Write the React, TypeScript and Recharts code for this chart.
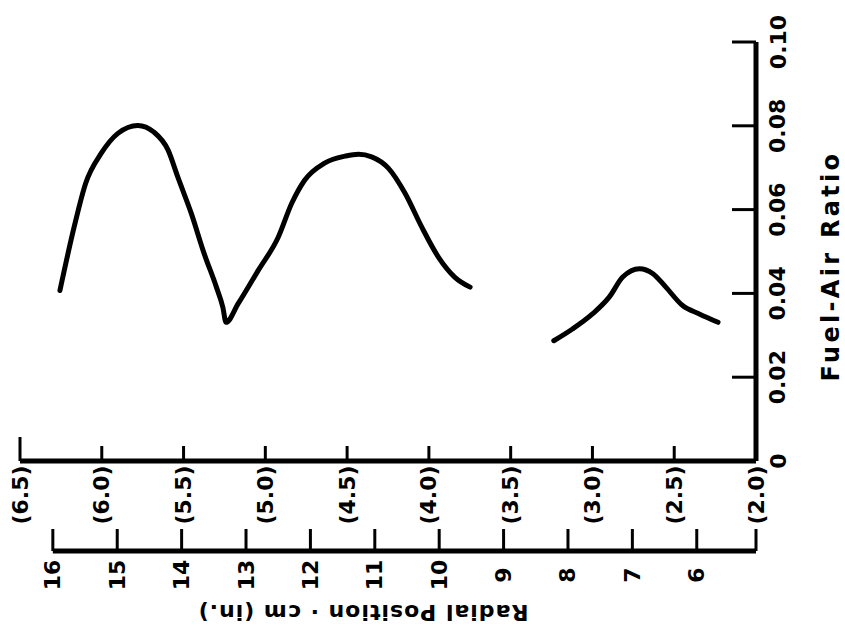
import React from 'react';
import { LineChart, Line, XAxis, YAxis, Label } from 'recharts';

// radial position in cm, fuel-air ratio
const outerCurve = [
  { cm: 15.89, far: 0.0407 },
  { cm: 15.67, far: 0.0558 },
  { cm: 15.49, far: 0.0663 },
  { cm: 15.25, far: 0.0734 },
  { cm: 14.99, far: 0.0782 },
  { cm: 14.68, far: 0.0801 },
  { cm: 14.43, far: 0.0785 },
  { cm: 14.21, far: 0.0742 },
  { cm: 14.06, far: 0.0678 },
  { cm: 13.85, far: 0.0591 },
  { cm: 13.65, far: 0.0495 },
  { cm: 13.46, far: 0.0415 },
  { cm: 13.36, far: 0.0367 },
  { cm: 13.31, far: 0.0331 },
  { cm: 13.12, far: 0.0376 },
  { cm: 12.81, far: 0.0455 },
  { cm: 12.5, far: 0.0534 },
  { cm: 12.29, far: 0.0615 },
  { cm: 12.09, far: 0.067 },
  { cm: 11.78, far: 0.0711 },
  { cm: 11.45, far: 0.0728 },
  { cm: 11.25, far: 0.0732 },
  { cm: 11.05, far: 0.0726 },
  { cm: 10.79, far: 0.0699 },
  { cm: 10.53, far: 0.0639 },
  { cm: 10.27, far: 0.0558 },
  { cm: 10.01, far: 0.0486 },
  { cm: 9.76, far: 0.0439 },
  { cm: 9.52, far: 0.0415 },
];

const innerCurve = [
  { cm: 8.22, far: 0.0287 },
  { cm: 7.93, far: 0.0315 },
  { cm: 7.62, far: 0.0351 },
  { cm: 7.36, far: 0.0391 },
  { cm: 7.15, far: 0.0439 },
  { cm: 6.89, far: 0.0459 },
  { cm: 6.68, far: 0.0447 },
  { cm: 6.48, far: 0.0415 },
  { cm: 6.22, far: 0.0371 },
  { cm: 5.96, far: 0.0351 },
  { cm: 5.67, far: 0.0331 },
];

const inchTicks = [6.5, 6.0, 5.5, 5.0, 4.5, 4.0, 3.5, 3.0, 2.5, 2.0];
const cmTicks = [16, 15, 14, 13, 12, 11, 10, 9, 8, 7, 6];
const ratioTicks = [0, 0.02, 0.04, 0.06, 0.08, 0.1];

const CM_PER_IN = 2.54;
const CM_MIN = 2.0 * CM_PER_IN;
const CM_MAX = 6.5 * CM_PER_IN;

const W = 845;
const H = 638;
const margin = { top: 42, right: 0, bottom: 0, left: 20 };
const Y_W = 89;
const PLOT_W = W - margin.left - margin.right - Y_W;
// cm axis line starts at the 16 cm tick, not at the plot edge
const CM_GAP = ((CM_MAX - cmTicks[0]) / (CM_MAX - CM_MIN)) * PLOT_W;

const FONT = '"DejaVu Sans", Arial, sans-serif';
const INK = '#000';

const RotText = ({ x, y, angle, children, size = 22, spacing = 0 }: any) => (
  <text
    x={x}
    y={y}
    transform={`rotate(${angle} ${x} ${y})`}
    textAnchor="middle"
    dominantBaseline="central"
    fontFamily={FONT}
    fontWeight="bold"
    fontSize={size}
    letterSpacing={spacing}
    fill={INK}
  >
    {children}
  </text>
);

const RatioTick = (props: any) => {
  const { x, y, payload } = props;
  const v = payload.value;
  return (
    <g>
      {v !== 0 && <line x1={x} y1={y} x2={x - 24} y2={y} stroke={INK} strokeWidth={3} />}
      <RotText x={x + 22} y={y} angle={-90}>
        {v === 0 ? '0' : v.toFixed(2)}
      </RotText>
    </g>
  );
};

const InchTick = (props: any) => {
  const { x, y, payload, index } = props;
  const len = index === 0 ? 24 : 15;
  const last = index === inchTicks.length - 1;
  return (
    <g>
      {!last && <line x1={x} y1={y} x2={x} y2={y - len} stroke={INK} strokeWidth={3} />}
      <RotText x={x} y={y + 34} angle={-90}>
        {`(${(payload.value / CM_PER_IN).toFixed(1)})`}
      </RotText>
    </g>
  );
};

const CmTick = (props: any) => {
  const { x, y, payload, index } = props;
  const v = payload.value;
  return (
    <g>
      <line x1={x} y1={y} x2={x} y2={y - 22} stroke={INK} strokeWidth={3} />
      {index < cmTicks.length && (
        <RotText x={x} y={y + 24} angle={-90}>
          {v}
        </RotText>
      )}
    </g>
  );
};

const RatioTitle = (props: any) => {
  const vb = props.viewBox;
  return (
    <RotText x={vb.x + 75} y={vb.y + 224} angle={-90} size={24} spacing={3.3}>
      Fuel-Air Ratio
    </RotText>
  );
};

const RadialTitle = (props: any) => {
  const vb = props.viewBox;
  return (
    <RotText x={vb.x + 343} y={vb.y + 61} angle={180} size={22} spacing={1}>
      Radial Position · cm (in.)
    </RotText>
  );
};

const App = () => {
  return (
    <div style={{ position: 'absolute', left: 0, top: 0, width: W, height: H, background: '#fff' }}>
      <LineChart width={W} height={H} margin={margin}>
        <XAxis
          xAxisId="inch"
          dataKey="cm"
          type="number"
          domain={[CM_MIN, CM_MAX]}
          reversed
          allowDataOverflow
          ticks={inchTicks.map((v) => v * CM_PER_IN)}
          interval={0}
          height={90}
          tickSize={0}
          tickMargin={0}
          tickLine={false}
          axisLine={{ stroke: INK, strokeWidth: 5 }}
          tick={InchTick}
        />
        <XAxis
          xAxisId="metric"
          dataKey="cm"
          type="number"
          domain={[CM_MIN, CM_MAX]}
          reversed
          allowDataOverflow
          ticks={[...cmTicks, CM_MIN]}
          interval={0}
          height={87}
          tickSize={0}
          tickMargin={0}
          tickLine={false}
          axisLine={{ stroke: INK, strokeWidth: 5, strokeDasharray: `0 ${CM_GAP} 2000` }}
          tick={CmTick}
          label={<Label content={RadialTitle} />}
        />
        <YAxis
          orientation="right"
          type="number"
          domain={[0, 0.1]}
          ticks={ratioTicks}
          interval={0}
          width={Y_W}
          tickSize={0}
          tickMargin={0}
          tickLine={false}
          axisLine={{ stroke: INK, strokeWidth: 5 }}
          tick={RatioTick}
          label={<Label content={RatioTitle} />}
        />
        <Line
          xAxisId="inch"
          data={outerCurve}
          dataKey="far"
          type="monotone"
          stroke={INK}
          strokeWidth={5}
          strokeLinecap="round"
          dot={false}
          isAnimationActive={false}
        />
        <Line
          xAxisId="metric"
          data={innerCurve}
          dataKey="far"
          type="monotone"
          stroke={INK}
          strokeWidth={5}
          strokeLinecap="round"
          dot={false}
          isAnimationActive={false}
        />
      </LineChart>
    </div>
  );
};

export default App;
